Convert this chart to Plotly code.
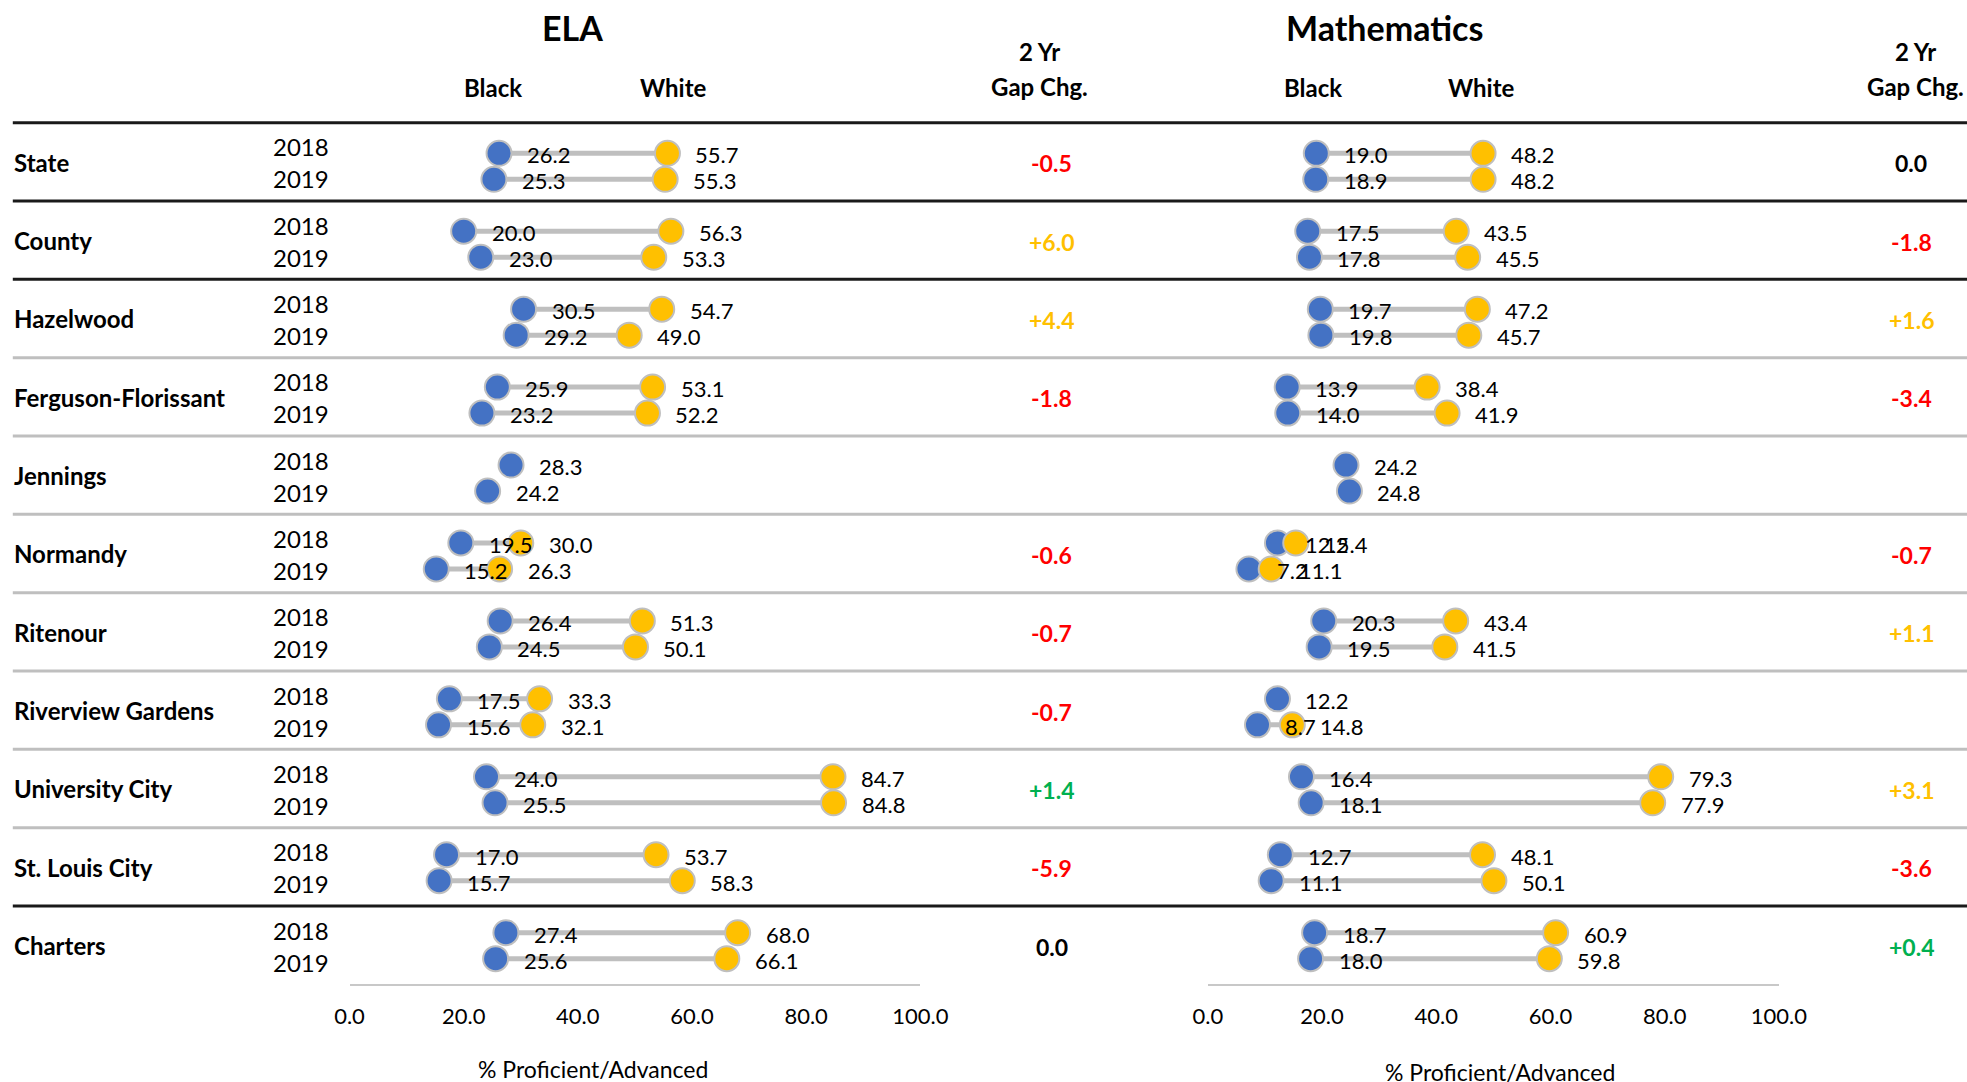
import plotly.graph_objects as go

W, H = 1967, 1082

# ---------------- data ----------------
districts = ["State", "County", "Hazelwood", "Ferguson-Florissant", "Jennings", "Normandy",
             "Ritenour", "Riverview Gardens", "University City", "St. Louis City", "Charters"]
years = ["2018", "2019"]
x_ticks = [0, 20, 40, 60, 80, 100]

ela_black_2018 = [26.2, 20.0, 30.5, 25.9, 28.3, 19.5, 26.4, 17.5, 24.0, 17.0, 27.4]
ela_white_2018 = [55.7, 56.3, 54.7, 53.1, None, 30.0, 51.3, 33.3, 84.7, 53.7, 68.0]
ela_black_2019 = [25.3, 23.0, 29.2, 23.2, 24.2, 15.2, 24.5, 15.6, 25.5, 15.7, 25.6]
ela_white_2019 = [55.3, 53.3, 49.0, 52.2, None, 26.3, 50.1, 32.1, 84.8, 58.3, 66.1]
ela_gap_change = [-0.5, 6.0, 4.4, -1.8, None, -0.6, -0.7, -0.7, 1.4, -5.9, 0.0]
ela_gap_kind = ["neg", "pos", "pos", "neg", None, "neg", "neg", "neg", "good", "neg", "zero"]

math_black_2018 = [19.0, 17.5, 19.7, 13.9, 24.2, 12.2, 20.3, 12.2, 16.4, 12.7, 18.7]
math_white_2018 = [48.2, 43.5, 47.2, 38.4, None, 15.4, 43.4, None, 79.3, 48.1, 60.9]
math_black_2019 = [18.9, 17.8, 19.8, 14.0, 24.8, 7.2, 19.5, 8.7, 18.1, 11.1, 18.0]
math_white_2019 = [48.2, 45.5, 45.7, 41.9, None, 11.1, 41.5, 14.8, 77.9, 50.1, 59.8]
math_gap_change = [0.0, -1.8, 1.6, -3.4, None, -0.7, 1.1, None, 3.1, -3.6, 0.4]
math_gap_kind = ["zero", "neg", "pos", "neg", None, "neg", "pos", None, "pos", "neg", "good"]

# ---------------- style ----------------
FONT = "Lato"
BLUE = "#4472C4"
GOLD = "#FFC000"
GREY = "#BFBFBF"
GAP_COLORS = {"neg": "#FF0000", "pos": "#FFC000", "good": "#00B050", "zero": "#000000"}

# table geometry (pixels)
TABLE_TOP = 122.7
ROW_H = 78.33
SLOT0 = 127.3        # pixel of slot 0 on the dot axis
SLOT = 25.98         # slot pitch (3 slots per district)
AXIS_PX = 984.3


def px(x):
    return x / W


def py(y):
    return 1 - y / H


fig = go.Figure()

subjects = [
    ("x", (ela_black_2018, ela_white_2018), (ela_black_2019, ela_white_2019)),
    ("x2", (math_black_2018, math_white_2018), (math_black_2019, math_white_2019)),
]

annotations = []

# connectors first
for xa, d18, d19 in subjects:
    for k, (blk, wht) in enumerate((d18, d19)):
        xs, ys = [], []
        for i, (b, w) in enumerate(zip(blk, wht)):
            if b is None or w is None:
                continue
            s = 3 * i + 1 + k
            xs += [b, w, None]
            ys += [s, s, None]
        fig.add_trace(go.Scatter(x=xs, y=ys, xaxis=xa, yaxis="y", mode="lines",
                                 line=dict(color=GREY, width=5), hoverinfo="skip"))

# black markers, then white markers on top
for series_idx, color in ((0, BLUE), (1, GOLD)):
    for xa, d18, d19 in subjects:
        for k, pair in enumerate((d18, d19)):
            vals = pair[series_idx]
            xs = [v for v in vals if v is not None]
            ys = [3 * i + 1 + k for i, v in enumerate(vals) if v is not None]
            fig.add_trace(go.Scatter(
                x=xs, y=ys, xaxis=xa, yaxis="y", mode="markers",
                marker=dict(size=25, color=color, line=dict(color=GREY, width=2)),
                name=years[k]))
            for xv, yv in zip(xs, ys):
                annotations.append(dict(
                    x=xv, y=yv, xref=xa, yref="y", text=f"{xv:.1f}", showarrow=False,
                    xanchor="left", yanchor="middle", xshift=26, yshift=-1.5,
                    font=dict(family=FONT, size=22, color="#000000")))

# ---------------- table text ----------------
for i, name in enumerate(districts):
    top = TABLE_TOP + ROW_H * i
    annotations.append(dict(x=px(11.5), y=py(top + 39.5), xref="paper", yref="paper",
                            text=f"<b>{name}</b>", showarrow=False, xanchor="left",
                            yanchor="middle", font=dict(family=FONT, size=24, color="#000")))
    for k, off in enumerate((24.0, 56.3)):
        annotations.append(dict(x=px(331), y=py(top + off), xref="paper", yref="paper",
                                text=years[k], showarrow=False, xanchor="right",
                                yanchor="middle", font=dict(family=FONT, size=24, color="#000")))
    for gx, vals, kinds in ((1051.8, ela_gap_change, ela_gap_kind),
                            (1911.0, math_gap_change, math_gap_kind)):
        v = vals[i]
        if v is None:
            continue
        txt = "0.0" if v == 0 else f"{v:+.1f}"
        annotations.append(dict(x=px(gx), y=py(top + 40.6), xref="paper", yref="paper",
                                text=f"<b>{txt}</b>", showarrow=False, xanchor="center",
                                yanchor="middle",
                                font=dict(family=FONT, size=23, color=GAP_COLORS[kinds[i]])))

# headers
headers = [
    ("<b>ELA</b>", 572.5, 28, 34),
    ("<b>Mathematics</b>", 1384, 28, 34),
    ("<b>Black</b>", 493, 87.3, 24),
    ("<b>White</b>", 673, 87.3, 24),
    ("<b>Black</b>", 1313, 87.3, 24),
    ("<b>White</b>", 1481.5, 87.3, 24),
    ("<b>2 Yr</b>", 1039.5, 51.7, 24),
    ("<b>Gap Chg.</b>", 1039.5, 86, 24),
    ("<b>2 Yr</b>", 1915, 51.7, 24),
    ("<b>Gap Chg.</b>", 1915, 86, 24),
    ("% Proficient/Advanced", 593, 1068.5, 23),
    ("% Proficient/Advanced", 1500, 1071.7, 23),
]
for txt, hx, hy, size in headers:
    annotations.append(dict(x=px(hx), y=py(hy), xref="paper", yref="paper", text=txt,
                            showarrow=False, xanchor="center", yanchor="middle",
                            font=dict(family=FONT, size=size, color="#000")))

# separator lines
shapes = []
thick = {0, 1, 2, 10}
for i in range(11):
    yy = TABLE_TOP + ROW_H * i
    shapes.append(dict(type="line", xref="paper", yref="paper", x0=px(12.8), x1=1,
                       y0=py(yy), y1=py(yy),
                       line=dict(color="#1A1A1A" if i in thick else GREY, width=3),
                       layer="below"))

axis_common = dict(range=[0, 100], showgrid=False, zeroline=False, showline=True,
                   linecolor="#C8C8C8", linewidth=2, tickvals=x_ticks, tickformat=".1f",
                   ticks="", ticklabelstandoff=11, fixedrange=True, automargin=False,
                   tickfont=dict(family=FONT, size=22, color="#000"))

fig.update_layout(
    template="none",
    width=W, height=H, autosize=False,
    margin=dict(l=0, r=0, t=0, b=0, pad=0, autoexpand=False),
    paper_bgcolor="white", plot_bgcolor="white",
    showlegend=False,
    xaxis=dict(domain=[px(349.5), px(920.3)], anchor="y", **axis_common),
    xaxis2=dict(domain=[px(1207.8), px(1778.9)], anchor="y", **axis_common),
    yaxis=dict(domain=[1 - AXIS_PX / H, 1],
               range=[(AXIS_PX - SLOT0) / SLOT, -SLOT0 / SLOT],
               visible=False, fixedrange=True, automargin=False),
    annotations=annotations,
    shapes=shapes,
    font=dict(family=FONT),
)

fig.write_html(
    "out.html",
    config={"displayModeBar": False, "responsive": False},
    post_script="document.body.style.margin='0';document.body.style.overflow='hidden';",
)
